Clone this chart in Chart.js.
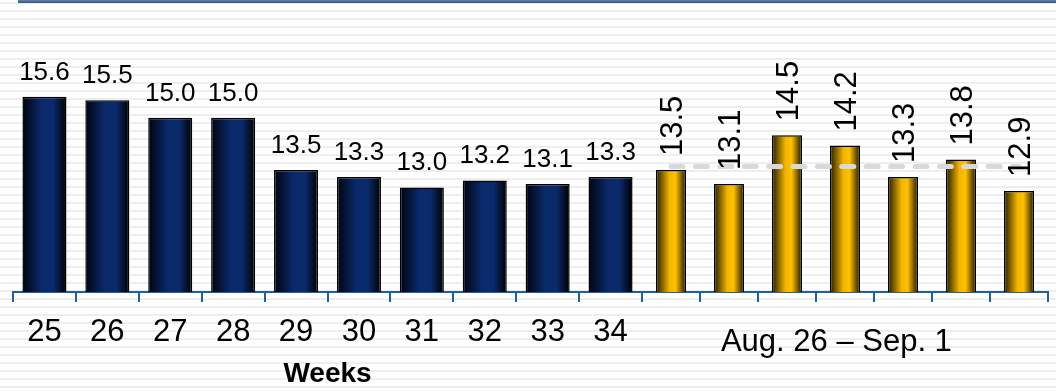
<!DOCTYPE html>
<html>
<head>
<meta charset="utf-8">
<script src="https://cdn.jsdelivr.net/npm/chart.js@4.4.1/dist/chart.umd.min.js"></script>
<style>
  html, body { margin: 0; padding: 0; }
  body {
    width: 1056px; height: 391px; overflow: hidden; position: relative;
    background: repeating-linear-gradient(to bottom, #fff 0px, #fff 2px, #eeeeee 2px, #eeeeee 4px, #fff 4px, #fff 8px);
  }
  #topRule { position: absolute; left: 18px; top: 0; width: 1038px; height: 3px; background: linear-gradient(#6d87ad, #2f4f7f); }
  canvas { position: absolute; top: 0; }
  #weekChart { left: 0; }
  #dayChart { left: 634px; }
</style>
</head>
<body>
<div id="topRule"></div>
<canvas id="weekChart" width="650" height="391"></canvas>
<canvas id="dayChart" width="422" height="391"></canvas>
<script>
const weekLabels = ['25', '26', '27', '28', '29', '30', '31', '32', '33', '34'];
const weekValues = [15.6, 15.5, 15.0, 15.0, 13.5, 13.3, 13.0, 13.2, 13.1, 13.3];
const dayLabels = ['Aug 26', 'Aug 27', 'Aug 28', 'Aug 29', 'Aug 30', 'Aug 31', 'Sep 1'];
const dayValues = [13.5, 13.1, 14.5, 14.2, 13.3, 13.8, 12.9];
const dayAverage = [13.6, 13.6, 13.6, 13.6, 13.6, 13.6, 13.6];

const FONT = 'Arial, "Liberation Sans", sans-serif';
const AXIS_BLUE = '#22609c';

Chart.defaults.font.family = FONT;
Chart.defaults.color = '#000';

// horizontal shading across each bar, built from the x scale
function barFill(stops, barPct) {
  return (c) => {
    const sc = c.chart.scales.x;
    if (!sc || c.dataIndex === undefined) return stops[1][1];
    const cx = sc.getPixelForValue(c.dataIndex);
    const half = sc.width / c.chart.data.labels.length * barPct / 2;
    if (!isFinite(cx) || !isFinite(half) || half <= 0) return stops[1][1];
    const g = c.chart.ctx.createLinearGradient(cx - half, 0, cx + half, 0);
    stops.forEach(s => g.addColorStop(s[0], s[1]));
    return g;
  };
}

const valueLabels = {
  id: 'valueLabels',
  afterDatasetsDraw(chart, args, opts) {
    const ctx = chart.ctx;
    const meta = chart.getDatasetMeta(0);
    const vals = chart.data.datasets[0].data;
    ctx.save();
    ctx.fillStyle = '#000';
    meta.data.forEach((bar, i) => {
      const txt = vals[i].toFixed(1);
      if (opts.rotate) {
        ctx.save();
        ctx.font = '31px ' + FONT;
        ctx.translate(bar.x + 2, bar.y - 14);
        ctx.rotate(-Math.PI / 2);
        ctx.textAlign = 'left';
        ctx.textBaseline = 'middle';
        ctx.fillText(txt, 0, 0);
        ctx.restore();
      } else {
        ctx.font = '26px ' + FONT;
        ctx.textAlign = 'center';
        ctx.textBaseline = 'alphabetic';
        ctx.fillText(txt, bar.x, bar.y - 17);
      }
    });
    ctx.restore();
  }
};

function xAxis(showTicks, title) {
  return {
    offset: true,
    grid: { display: true, drawOnChartArea: false, drawTicks: true, tickLength: 10, color: AXIS_BLUE, lineWidth: 2, offset: true },
    border: { display: true, color: AXIS_BLUE, width: 2 },
    ticks: { display: showTicks, font: { size: 31 }, color: '#000', padding: 12, maxRotation: 0, autoSkip: false },
    title: title,
    afterFit(scale) { scale.height = 99; }
  };
}

const yAxis = { display: false, min: 10, max: 17 };

const weekChart = new Chart(document.getElementById('weekChart'), {
  type: 'bar',
  data: {
    labels: weekLabels,
    datasets: [{
      data: weekValues,
      backgroundColor: barFill([[0, '#00040f'], [0.45, '#0b2a6c'], [0.7, '#0b2a6c'], [1, '#000000']], 0.7),
      borderColor: '#000',
      borderWidth: 1.5,
      categoryPercentage: 1,
      barPercentage: 0.7
    }]
  },
  options: {
    responsive: false,
    animation: false,
    layout: { padding: { left: 13, right: 8, top: 48, bottom: 0 } },
    plugins: { legend: { display: false }, tooltip: { enabled: false }, valueLabels: { rotate: false } },
    scales: {
      x: xAxis(true, { display: true, text: 'Weeks', font: { size: 28, weight: 'bold' }, color: '#000', padding: { top: 0, bottom: 0 } }),
      y: yAxis
    }
  },
  plugins: [valueLabels]
});

const dayChart = new Chart(document.getElementById('dayChart'), {
  type: 'bar',
  data: {
    labels: dayLabels,
    datasets: [{
      data: dayValues,
      order: 1,
      backgroundColor: barFill([[0, '#241a00'], [0.45, '#f2b600'], [0.65, '#ffc000'], [1, '#1c1400']], 0.52),
      borderColor: '#000',
      borderWidth: 1.5,
      categoryPercentage: 1,
      barPercentage: 0.52
    }, {
      type: 'line',
      data: dayAverage,
      order: 0,
      borderColor: '#d9d9d9',
      borderWidth: 5,
      borderDash: [12, 12.4],
      borderCapStyle: 'round',
      pointRadius: 0,
      fill: false
    }]
  },
  options: {
    responsive: false,
    animation: false,
    layout: { padding: { left: 8, right: 8, top: 48, bottom: 0 } },
    plugins: { legend: { display: false }, tooltip: { enabled: false }, valueLabels: { rotate: true } },
    scales: {
      x: xAxis(false, { display: true, text: 'Aug. 26 \u2013 Sep. 1  ', font: { size: 31 }, color: '#000', padding: { top: 0, bottom: 30 } }),
      y: yAxis
    }
  },
  plugins: [valueLabels]
});

// second pass so the gradients see the laid-out scales
weekChart.update();
dayChart.update();
</script>
</body>
</html>
